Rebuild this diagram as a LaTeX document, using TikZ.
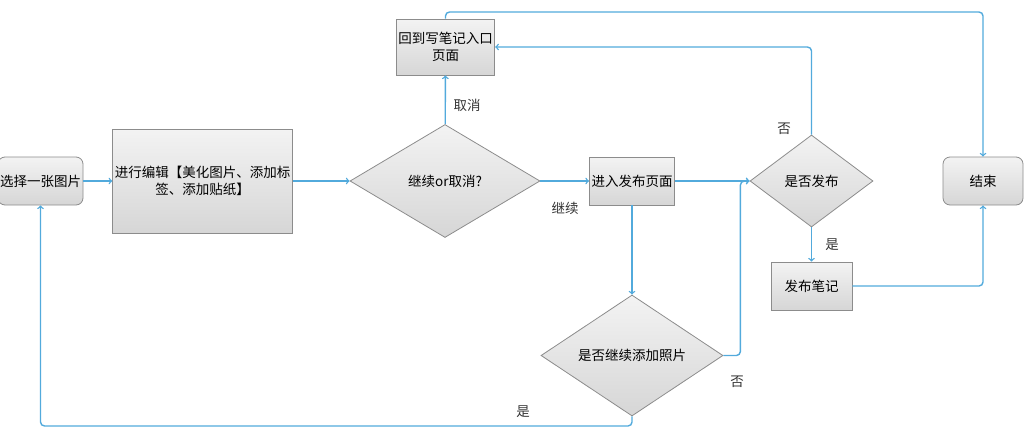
\documentclass[tikz,border=0pt]{standalone}
\usepackage{fontspec}
\setmainfont{Noto Sans CJK SC}
\usepackage{xcolor}
\usepackage{tikz}
\usetikzlibrary{shapes.geometric, arrows, positioning}
\definecolor{flowblue}{RGB}{82, 170, 220}
\definecolor{edgegray}{RGB}{140, 140, 140}
\definecolor{filltop}{RGB}{243, 243, 243}
\definecolor{fillbot}{RGB}{214, 214, 214}

\tikzset{
    procbox/.style={draw=edgegray, line width=0.8pt, top color=filltop, bottom color=fillbot,
        minimum width=80pt, minimum height=48pt, inner sep=2pt, align=center},
    termbox/.style={procbox, rounded corners=7pt},
    choice/.style={diamond, draw=edgegray, line width=0.8pt, top color=filltop,
        bottom color=fillbot, inner sep=0pt, align=center},
    flow/.style={flowblue, line width=1.4pt, ->, rounded corners=4pt},
    tag/.style={text=black!80}
}

\begin{document}
\begin{tikzpicture}[x=1pt, y=-1pt, font=\fontsize{13.5}{17}\selectfont]
    \useasboundingbox (0,0) rectangle (1025,431);

    % Main row
    \node[termbox] (pick) at (40.5,181) {选择一张图片};
    \node[procbox, minimum width=179pt, minimum height=104pt] (edit) at (202.5,181)
        {进行编辑【美化图片、添加标\\签、添加贴纸】};
    \node[choice, minimum width=190pt, minimum height=113pt] (ask) at (445,181)
        {继续or取消?};
    \node[procbox, minimum width=97pt, minimum height=56pt] (back) at (445.5,47)
        {回到写笔记入口\\页面};
    \node[procbox] (enter) at (632,181) {进入发布页面};
    \node[choice, minimum width=123pt, minimum height=92pt] (pub) at (811.5,181)
        {是否发布};
    \node[procbox, minimum width=81pt] (post) at (811.5,286) {发布笔记};
    \node[termbox] (end) at (983,181) {结束};
    \node[choice, minimum width=182pt, minimum height=121pt] (more) at (632,355.5)
        {是否继续添加照片};

    % Helper points for the outer loops
    \coordinate (low) at (0,426);
    \coordinate (high) at (0,12);

    % Connectors
    \draw[flow] (pick) -- (edit);
    \draw[flow] (edit) -- (ask);
    \draw[flow] (ask) -- (back);
    \draw[flow] (ask) -- (enter);
    \draw[flow] (enter) -- (pub);
    \draw[flow] (enter) -- (more);
    \draw[flow] (more.east) -- ++(17,0) |- (pub.west);
    \draw[flow] (more.south) -- (more.south |- low) -- (pick.south |- low) -- (pick.south);
    \draw[flow] (pub.north) |- (back.east);
    \draw[flow] (pub) -- (post);
    \draw[flow] (post.east) -| (end.south);
    \draw[flow] (back.north) -- (back.north |- high) -| (end.north);

    % Branch labels
    \node[tag] (tcancel) at (467,105) {取消};
    \node[tag] (tgo) at (565,208) {继续};
    \node[tag] (tno1) at (784,129) {否};
    \node[tag] (tyes1) at (832,245) {是};
    \node[tag] (tno2) at (737,382) {否};
    \node[tag] (tyes2) at (523,412) {是};
\end{tikzpicture}
\end{document}
